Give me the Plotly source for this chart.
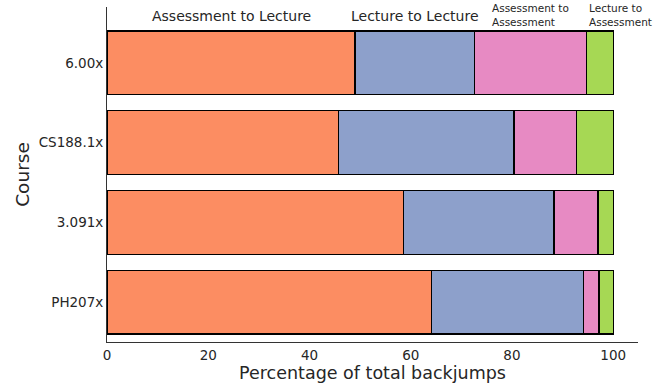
import plotly.graph_objects as go

# Courses listed bottom to top
courses = ["PH207x", "3.091x", "CS188.1x", "6.00x"]
categories = ["Assessment to Lecture", "Lecture to Lecture",
              "Assessment to\nAssessment", "Lecture to\nAssessment"]

# Percentage of backjumps per category, one list per category (same order as courses)
assess_to_lecture = [64.1, 58.6, 45.7, 49.0]
lecture_to_lecture = [30.0, 29.7, 34.7, 23.6]
assess_to_assess = [3.1, 8.7, 12.3, 22.2]
lecture_to_assess = [2.8, 3.0, 7.3, 5.2]

series = [assess_to_lecture, lecture_to_lecture, assess_to_assess, lecture_to_assess]
colors = ["#FC8D62", "#8DA0CB", "#E78AC3", "#A6D854"]

font_family = "DejaVu Sans"
text_color = "#262626"

fig = go.Figure()
for name, vals, col in zip(categories, series, colors):
    fig.add_trace(go.Bar(
        y=courses, x=vals, orientation="h", name=name.replace("\n", " "),
        marker=dict(color=col, line=dict(color="black", width=1.2)),
        width=0.8, showlegend=False,
    ))

# Category headers above the top bar, positioned at its segment centres
top = [s[-1] for s in series]
starts = [sum(top[:i]) for i in range(len(top))]
header_sizes = [14, 14, 10.5, 10.5]
for i, (name, st, w) in enumerate(zip(categories, starts, top)):
    last = i == len(top) - 1
    fig.add_annotation(
        x=st if last else st + w / 2,
        y=3.585 if header_sizes[i] > 11 else 3.605,
        xref="x", yref="y",
        text=name.replace("\n", "<br>"),
        showarrow=False,
        xanchor="left" if last else "center",
        yanchor="middle",
        align="left",
        font=dict(family=font_family, size=header_sizes[i], color=text_color),
    )

fig.update_layout(
    barmode="stack",
    width=664, height=385,
    margin=dict(l=107, r=26, t=7, b=43),
    plot_bgcolor="white", paper_bgcolor="white",
    font=dict(family=font_family, color=text_color),
    xaxis=dict(
        range=[0, 104.9], tickvals=[0, 20, 40, 60, 80, 100],
        showgrid=False, zeroline=False, automargin=False,
        showline=True, linecolor="#333333", linewidth=1,
        ticks="outside", ticklen=1, tickcolor="rgba(0,0,0,0)",
        tickfont=dict(size=13.5, color=text_color),
        title=dict(text="Percentage of total backjumps", standoff=2,
                   font=dict(size=17.5, color=text_color)),
    ),
    yaxis=dict(
        range=[-0.5, 3.70],
        showgrid=False, zeroline=False, automargin=False,
        showline=True, linecolor="#333333", linewidth=1,
        ticks="", ticklabelstandoff=0,
        tickfont=dict(size=13.5, color=text_color),
        title=dict(text="Course", standoff=4,
                   font=dict(size=18.5, color=text_color)),
    ),
)

fig.write_html("out.html")
